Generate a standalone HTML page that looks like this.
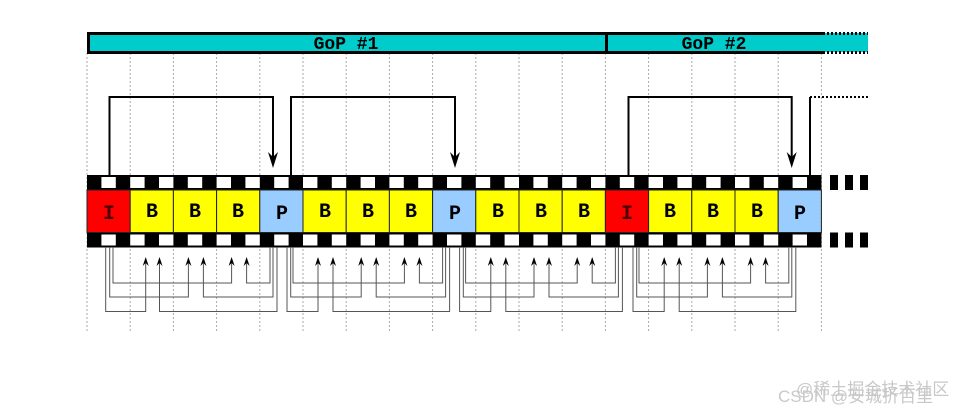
<!DOCTYPE html>
<html><head><meta charset="utf-8"><style>
html,body{margin:0;padding:0;background:#fff;width:955px;height:414px;overflow:hidden}
</style></head><body>
<svg width="955" height="414" viewBox="0 0 955 414" xmlns="http://www.w3.org/2000/svg">
<defs>
<pattern id="film" x="87" y="0" width="28.8" height="414" patternUnits="userSpaceOnUse">
<rect x="0" y="0" width="14.4" height="414" fill="#000"/>
<rect x="14.4" y="0" width="14.4" height="414" fill="#fff"/>
</pattern>
</defs>
<!-- grid -->
<g stroke="#aaa" stroke-width="1" stroke-dasharray="2,2">
<line x1="87" y1="53" x2="87" y2="333"/><line x1="130.2" y1="53" x2="130.2" y2="333"/><line x1="173.4" y1="53" x2="173.4" y2="333"/><line x1="216.6" y1="53" x2="216.6" y2="333"/><line x1="259.8" y1="53" x2="259.8" y2="333"/><line x1="303" y1="53" x2="303" y2="333"/><line x1="346.2" y1="53" x2="346.2" y2="333"/><line x1="389.4" y1="53" x2="389.4" y2="333"/><line x1="432.6" y1="53" x2="432.6" y2="333"/><line x1="475.8" y1="53" x2="475.8" y2="333"/><line x1="519" y1="53" x2="519" y2="333"/><line x1="562.2" y1="53" x2="562.2" y2="333"/><line x1="605.4" y1="53" x2="605.4" y2="333"/><line x1="648.6" y1="53" x2="648.6" y2="333"/><line x1="691.8" y1="53" x2="691.8" y2="333"/><line x1="735" y1="53" x2="735" y2="333"/><line x1="778.2" y1="53" x2="778.2" y2="333"/><line x1="821.4" y1="53" x2="821.4" y2="333"/>
</g>
<!-- GoP bar -->
<rect x="88" y="33" width="780" height="19" fill="#00cccc"/>
<path d="M823 33.5 H88.5 V52.5 H823" fill="none" stroke="#000" stroke-width="3"/>
<line x1="606.5" y1="33" x2="606.5" y2="53" stroke="#000" stroke-width="3"/>
<line x1="823" y1="33.5" x2="868" y2="33.5" stroke="#000" stroke-width="3" stroke-dasharray="2,2"/>
<line x1="823" y1="52.5" x2="868" y2="52.5" stroke="#000" stroke-width="3" stroke-dasharray="2,2"/>
<g font-family="'Liberation Mono',monospace" font-weight="bold" font-size="18" text-anchor="middle" fill="#000">
<text x="346" y="49">GoP #1</text><text x="714" y="49">GoP #2</text>
</g>
<!-- top arrows -->
<g fill="none" stroke="#000" stroke-width="2">
<path d="M109.5 175 V97 H273 V160"/>
<path d="M291 175 V97 H455 V160"/>
<path d="M628.5 175 V97 H791.7 V160"/>
<path d="M810 175 V97"/>
</g>
<path d="M810 97 H868" stroke="#000" stroke-width="2" stroke-dasharray="2,2"/>
<g fill="#000">
<path d="M268 152 L273 168 L278 152 L273 157Z"/>
<path d="M450 152 L455 168 L460 152 L455 157Z"/>
<path d="M786.7 152 L791.7 168 L796.7 152 L791.7 157Z"/>
</g>
<!-- film strip -->
<rect x="87" y="175" width="734.4" height="15" fill="url(#film)"/>
<rect x="87" y="232.5" width="734.4" height="15" fill="url(#film)"/>
<rect x="88" y="176" width="732.4" height="13" fill="none" stroke="#000" stroke-width="2"/>
<rect x="88" y="233.5" width="732.4" height="13" fill="none" stroke="#000" stroke-width="2"/>
<g fill="#000">
<rect x="830" y="175" width="8" height="15"/><rect x="845" y="175" width="8" height="15"/><rect x="860" y="175" width="8" height="15"/>
<rect x="830" y="232.5" width="8" height="15"/><rect x="845" y="232.5" width="8" height="15"/><rect x="860" y="232.5" width="8" height="15"/>
</g>
<g stroke="#222" stroke-width="1">
<rect x="87" y="190" width="43.2" height="42.5" fill="#ff0000"/>
<rect x="130.2" y="190" width="43.2" height="42.5" fill="#ffff00"/>
<rect x="173.4" y="190" width="43.2" height="42.5" fill="#ffff00"/>
<rect x="216.6" y="190" width="43.2" height="42.5" fill="#ffff00"/>
<rect x="259.8" y="190" width="43.2" height="42.5" fill="#99ccff"/>
<rect x="303" y="190" width="43.2" height="42.5" fill="#ffff00"/>
<rect x="346.2" y="190" width="43.2" height="42.5" fill="#ffff00"/>
<rect x="389.4" y="190" width="43.2" height="42.5" fill="#ffff00"/>
<rect x="432.6" y="190" width="43.2" height="42.5" fill="#99ccff"/>
<rect x="475.8" y="190" width="43.2" height="42.5" fill="#ffff00"/>
<rect x="519" y="190" width="43.2" height="42.5" fill="#ffff00"/>
<rect x="562.2" y="190" width="43.2" height="42.5" fill="#ffff00"/>
<rect x="605.4" y="190" width="43.2" height="42.5" fill="#ff0000"/>
<rect x="648.6" y="190" width="43.2" height="42.5" fill="#ffff00"/>
<rect x="691.8" y="190" width="43.2" height="42.5" fill="#ffff00"/>
<rect x="735" y="190" width="43.2" height="42.5" fill="#ffff00"/>
<rect x="778.2" y="190" width="43.2" height="42.5" fill="#99ccff"/>
</g>
<g font-family="'Liberation Mono',monospace" font-weight="bold" font-size="20" text-anchor="middle" fill="#000">
<text x="109" y="219" fill="#400">I</text><text x="152" y="217">B</text><text x="195" y="217">B</text><text x="238" y="217">B</text><text x="282" y="219">P</text>
<text x="325" y="217">B</text><text x="368" y="217">B</text><text x="411" y="217">B</text><text x="455" y="219">P</text>
<text x="498" y="217">B</text><text x="541" y="217">B</text><text x="584" y="217">B</text><text x="627" y="219" fill="#400">I</text>
<text x="670" y="217">B</text><text x="713" y="217">B</text><text x="757" y="217">B</text><text x="800" y="219">P</text>
</g>
<!-- bottom references -->
<g fill="none" stroke="#555" stroke-width="1">
<path d="M113 247 V283 H231.6 V262"/><path d="M109.7 247 V297 H188.4 V262"/><path d="M105.7 247 V311.5 H145.7 V262"/>
<path d="M270 247 V283 H246.6 V262"/><path d="M273 247 V297 H203.4 V262"/><path d="M277 247 V311.5 H159.5 V262"/>
<path d="M293 247 V283 H404.4 V262"/><path d="M290.7 247 V297 H361.2 V262"/><path d="M287 247 V311.5 H318 V262"/>
<path d="M442.6 247 V283 H419.4 V262"/><path d="M445.6 247 V297 H376.2 V262"/><path d="M449.6 247 V311.5 H333 V262"/>
<path d="M465.6 247 V283 H577.2 V262"/><path d="M463.3 247 V297 H534 V262"/><path d="M459.6 247 V311.5 H490.8 V262"/>
<path d="M615.4 247 V283 H592.2 V262"/><path d="M618.4 247 V297 H549 V262"/><path d="M622.4 247 V311.5 H505.8 V262"/>
<path d="M639 247 V283 H750.6 V262"/><path d="M636.7 247 V297 H707.4 V262"/><path d="M633 247 V311.5 H664.2 V262"/>
<path d="M788.8 247 V283 H765.6 V262"/><path d="M791.8 247 V297 H722.4 V262"/><path d="M795.8 247 V311.5 H679.2 V262"/>
</g>
<g fill="#000">
<path d="M142.7 266 L145.7 257 L148.7 266 L145.7 263Z"/><path d="M156.5 266 L159.5 257 L162.5 266 L159.5 263Z"/>
<path d="M185.4 266 L188.4 257 L191.4 266 L188.4 263Z"/><path d="M200.4 266 L203.4 257 L206.4 266 L203.4 263Z"/>
<path d="M228.6 266 L231.6 257 L234.6 266 L231.6 263Z"/><path d="M243.6 266 L246.6 257 L249.6 266 L246.6 263Z"/>
<path d="M315 266 L318 257 L321 266 L318 263Z"/><path d="M330 266 L333 257 L336 266 L333 263Z"/>
<path d="M358.2 266 L361.2 257 L364.2 266 L361.2 263Z"/><path d="M373.2 266 L376.2 257 L379.2 266 L376.2 263Z"/>
<path d="M401.4 266 L404.4 257 L407.4 266 L404.4 263Z"/><path d="M416.4 266 L419.4 257 L422.4 266 L419.4 263Z"/>
<path d="M487.8 266 L490.8 257 L493.8 266 L490.8 263Z"/><path d="M502.8 266 L505.8 257 L508.8 266 L505.8 263Z"/>
<path d="M531 266 L534 257 L537 266 L534 263Z"/><path d="M546 266 L549 257 L552 266 L549 263Z"/>
<path d="M574.2 266 L577.2 257 L580.2 266 L577.2 263Z"/><path d="M589.2 266 L592.2 257 L595.2 266 L592.2 263Z"/>
<path d="M661.2 266 L664.2 257 L667.2 266 L664.2 263Z"/><path d="M676.2 266 L679.2 257 L682.2 266 L679.2 263Z"/>
<path d="M704.4 266 L707.4 257 L710.4 266 L707.4 263Z"/><path d="M719.4 266 L722.4 257 L725.4 266 L722.4 263Z"/>
<path d="M747.6 266 L750.6 257 L753.6 266 L750.6 263Z"/><path d="M762.6 266 L765.6 257 L768.6 266 L765.6 263Z"/>
</g>
<!-- watermark -->
<g font-family="'Liberation Sans','Noto Sans CJK SC',sans-serif" font-size="17" fill="#bbb" opacity="0.8">
<text x="796" y="395">@稀土掘金技术社区</text>
<text x="778" y="402">CSDN @安城折百里</text>
</g>
</svg>
</body></html>
